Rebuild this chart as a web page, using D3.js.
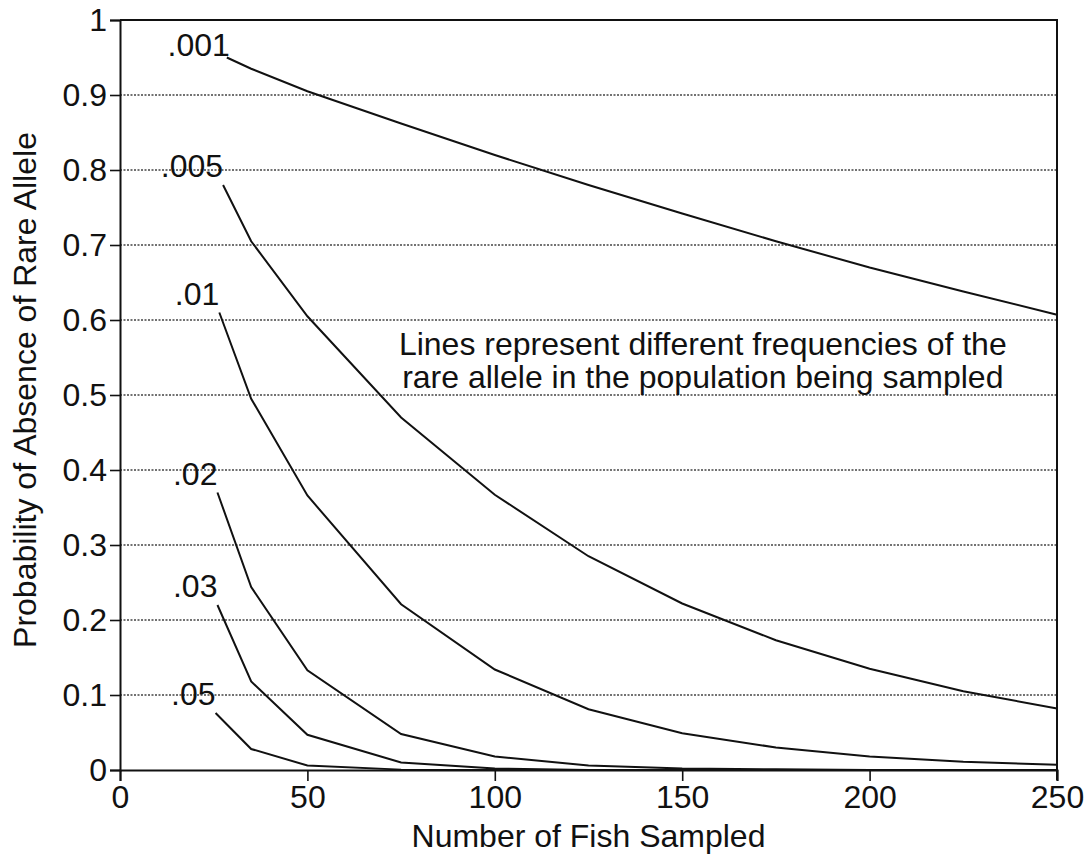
<!DOCTYPE html>
<html>
<head>
<meta charset="utf-8">
<script src="https://cdn.jsdelivr.net/npm/d3@7"></script>
<style>
  body { margin: 0; background: #fff; }
  text { font-family: "Liberation Sans", Arial, sans-serif; fill: #111; }
</style>
</head>
<body>
<script>
// chart data
var freqLabels = ['.001', '.005', '.01', '.02', '.03', '.05'];
var startN = [28.5, 27.5, 26.5, 26, 26, 25.5];
var sampleSizes = [35, 50, 75, 100, 125, 150, 175, 200, 225, 250];

// first value is at startN, the rest at sampleSizes
var p001 = [0.95, 0.935, 0.905, 0.862, 0.82, 0.78, 0.742, 0.705, 0.67, 0.638, 0.607];
var p005 = [0.78, 0.705, 0.605, 0.47, 0.367, 0.285, 0.222, 0.173, 0.135, 0.105, 0.082];
var p01  = [0.61, 0.495, 0.366, 0.221, 0.134, 0.081, 0.049, 0.03, 0.018, 0.011, 0.007];
var p02  = [0.37, 0.244, 0.133, 0.048, 0.018, 0.006, 0.002, 0.001, 0, 0, 0];
var p03  = [0.22, 0.118, 0.047, 0.01, 0.002, 0, 0, 0, 0, 0, 0];
var p05  = [0.076, 0.028, 0.006, 0.0005, 0, 0, 0, 0, 0, 0, 0];
var seriesValues = [p001, p005, p01, p02, p03, p05];

var xTicks = [0, 50, 100, 150, 200, 250];
var yTicks = [0, 0.1, 0.2, 0.3, 0.4, 0.5, 0.6, 0.7, 0.8, 0.9, 1];
var yTickLabels = ['0', '0.1', '0.2', '0.3', '0.4', '0.5', '0.6', '0.7', '0.8', '0.9', '1'];
var xTitle = 'Number of Fish Sampled';
var yTitle = 'Probability of Absence of Rare Allele';
var noteLines = ['Lines represent different frequencies of the',
                 'rare allele in the population being sampled'];

// dom
var width = 1089, height = 860;
var fs = 32;
var svg = d3.select('body').append('svg')
  .attr('width', width)
  .attr('height', height);

var x = d3.scaleLinear().domain([0, 250]).range([120, 1057]);
var y = d3.scaleLinear().domain([0, 1]).range([770, 20]);

// dotted grid
svg.append('g').selectAll('line')
  .data(yTicks.filter(d => d > 0 && d < 1))
  .join('line')
    .attr('x1', x(0)).attr('x2', x(250))
    .attr('y1', d => y(d)).attr('y2', d => y(d))
    .attr('stroke', '#444')
    .attr('stroke-width', 1.3)
    .attr('stroke-dasharray', '2,1.5');

// frame top + right
svg.append('path')
  .attr('d', 'M' + x(0) + ',' + y(1) + 'H' + x(250) + 'V' + (y(0) + 10))
  .attr('fill', 'none')
  .attr('stroke', '#111')
  .attr('stroke-width', 2);

// axes
var xAxis = svg.append('g')
  .attr('transform', 'translate(0,' + y(0) + ')')
  .call(d3.axisBottom(x).tickValues(xTicks).tickSize(11).tickPadding(4).tickFormat(d3.format('d')));
var yAxis = svg.append('g')
  .attr('transform', 'translate(' + x(0) + ',0)')
  .call(d3.axisLeft(y).tickValues(yTicks).tickSize(10).tickPadding(3)
    .tickFormat((d, i) => yTickLabels[i]));

[xAxis, yAxis].forEach(g => {
  g.select('.domain').attr('stroke', '#111').attr('stroke-width', 2);
  g.selectAll('.tick line').attr('stroke', '#111').attr('stroke-width', 1.6);
  g.selectAll('.tick text')
    .attr('font-size', fs)
    .attr('font-family', '"Liberation Sans", Arial, sans-serif')
    .attr('fill', '#111');
});

// curves
var line = d3.line().x(d => x(d[0])).y(d => y(d[1]));
seriesValues.forEach((vals, i) => {
  var ns = [startN[i]].concat(sampleSizes);
  var pts = vals.map((v, j) => [ns[j], v]);
  svg.append('path')
    .datum(pts)
    .attr('d', line)
    .attr('fill', 'none')
    .attr('stroke', '#111')
    .attr('stroke-width', 2);

  // label sits up-left of where the curve starts
  svg.append('text')
    .attr('x', x(startN[i]) + (i === 0 ? 3 : 0))
    .attr('y', y(vals[0]) - (i === 0 ? 2 : 8))
    .attr('text-anchor', 'end')
    .attr('font-size', fs)
    .text(freqLabels[i]);
});

// note
svg.append('g').selectAll('text')
  .data(noteLines)
  .join('text')
    .attr('x', x(155.5))
    .attr('y', (d, i) => 355 + i * 33)
    .attr('text-anchor', 'middle')
    .attr('font-size', fs)
    .text(d => d);

// titles
svg.append('text')
  .attr('x', (x(0) + x(250)) / 2)
  .attr('y', 847)
  .attr('text-anchor', 'middle')
  .attr('font-size', fs)
  .text(xTitle);

svg.append('text')
  .attr('transform', 'translate(36,390) rotate(-90)')
  .attr('text-anchor', 'middle')
  .attr('font-size', fs)
  .text(yTitle);
</script>
</body>
</html>
